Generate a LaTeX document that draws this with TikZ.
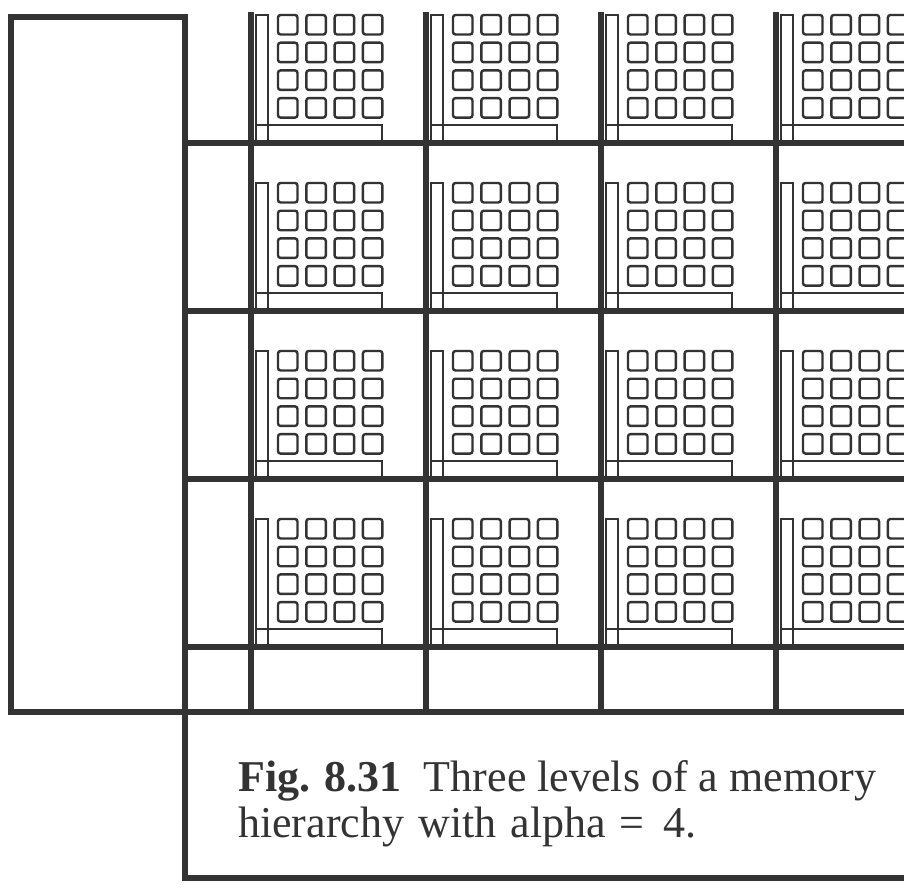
\documentclass[tikz,border=0pt]{standalone}
\usepackage{fontspec}
\setmainfont{Liberation Serif}
\definecolor{ink}{HTML}{333333}
\newcommand\memcell[2]{%
  \begin{scope}[shift={(#1,#2)}]
    \draw[thinline] (5,168) -- (5,40) -- (17,40) -- (17,168);
    \draw[thinline] (5,150) -- (131,150) -- (131,168);
    \foreach \i in {0,1,2,3}{
      \foreach \j in {0,1,2,3}{
        \draw[cellsq] ({27+28.3*\i},{40+27.7*\j}) rectangle ++(19.5,19.5);
      }
    }
  \end{scope}}
\begin{document}
\begin{tikzpicture}[x=1pt,y=-1pt,
  thickline/.style={draw=ink,line width=6.5pt,line cap=rect},
  thinline/.style={draw=ink,line width=1.6pt},
  cellsq/.style={draw=ink,line width=2.4pt,rounded corners=2.5pt},
  captext/.style={anchor=base west,inner sep=0pt,text=ink,font=\fontsize{44}{46}\selectfont}]
\useasboundingbox (0,0) rectangle (904,888);
\clip (0,0) rectangle (904,888);
% processor-memory cells
\foreach \cx in {251,426,601,776}{
  \foreach \cy in {-25,143,311,479}{
    \memcell{\cx}{\cy}
  }
}
% left box (top level)
\draw[thickline,line cap=butt,line join=miter] (11,17) rectangle (185,712);
% grid verticals
\foreach \cx in {251,426,601,776}{
  \draw[thickline] (\cx,15) -- (\cx,712);
}
\draw[thickline] (185,17) -- (185,878);
% grid horizontals
\foreach \cy in {143,311,479,647}{
  \draw[thickline] (185,\cy) -- (910,\cy);
}
\draw[thickline] (11,712) -- (910,712);
% caption box
\draw[thickline] (185,712) -- (185,878) -- (910,878);
\node[captext] (cap1) at (238,791) {\textbf{Fig. 8.31}\ \ Three levels of a memory};
\node[captext] (cap2) at (238,837) {hierarchy\hspace{14pt}with\hspace{14pt}alpha\hspace{14pt}=\hspace{19pt}4.};
\end{tikzpicture}
\end{document}
